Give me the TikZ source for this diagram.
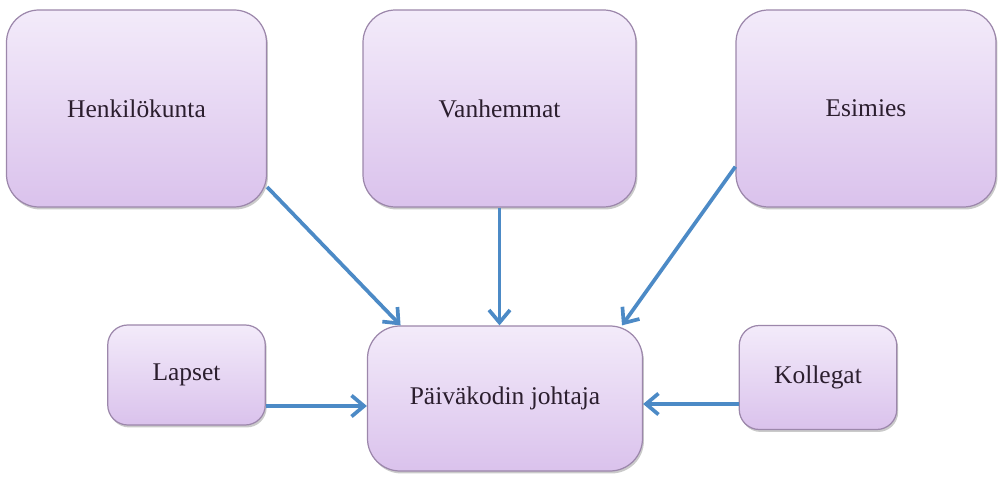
\documentclass[tikz,border=0pt]{standalone}
\usepackage{fontspec}
\setmainfont{Liberation Serif}
\usetikzlibrary{arrows.meta,positioning,shadows}
\definecolor{boxTop}{HTML}{F3EBFA}
\definecolor{boxBottom}{HTML}{DAC2EC}
\definecolor{boxLine}{HTML}{9C87AB}
\definecolor{arrowBlue}{HTML}{4C8AC6}
\definecolor{textInk}{HTML}{2B1E2E}
\tikzset{%
    >={Straight Barb[width=4.2mm,length=2.5mm]},
    base/.style = {
        rectangle, rounded corners=0.65cm, draw=boxLine, line width=0.7pt,
        top color=boxTop, bottom color=boxBottom, text=textInk,
        text centered, font=\fontsize{14.5}{17}\selectfont,
        drop shadow={shadow xshift=0.8pt, shadow yshift=-1.4pt,
            opacity=0.35, fill=black!60}
    },
    bigBox/.style = {base, minimum width=5.2cm, minimum height=3.94cm},
    smallBox/.style = {base, rounded corners=0.4cm,
        minimum width=3.15cm, minimum height=2cm},
    headBox/.style = {base, minimum width=5.5cm, minimum height=2.9cm},
    link/.style = {->, draw=arrowBlue, line width=2.1pt},
}

\begin{document}
\begin{tikzpicture}[node distance=7.3cm]
        \useasboundingbox (0,0) rectangle (20.06,-9.62);

        % Nodes position
        \node (vanhemmat)   [bigBox, minimum width=5.46cm]
                              at (9.99,-2.17) {Vanhemmat};
        \node (henkilo)     [bigBox, left of=vanhemmat, xshift=0.04cm]
                              {Henkilökunta};
        \node (esimies)     [bigBox, right of=vanhemmat, xshift=0.03cm]
                              {Esimies};
        \node (johtaja)     [headBox, below of=vanhemmat, xshift=0.11cm,
                              yshift=1.5cm]
                              {Päiväkodin johtaja};
        \node (lapset)      [smallBox, left of=johtaja, xshift=0.93cm,
                              yshift=0.47cm]
                              {Lapset};
        \node (kollegat)    [smallBox, right of=johtaja, xshift=-1.04cm,
                              yshift=0.42cm, minimum height=2.08cm]
                              {Kollegat};

        % Arrow specification
        \draw[link]   (henkilo.-31) -- (johtaja.145);
        \draw[link] (vanhemmat.south) -- (vanhemmat.south |- johtaja.north);
        \draw[link]   (esimies.204) -- (johtaja.32);
        \draw[link] ([yshift=-0.62cm]lapset.east)
                      -- ([yshift=-0.62cm]lapset.east -| johtaja.west);
        \draw[link] ([yshift=-0.53cm]kollegat.west)
                      -- ([yshift=-0.53cm]kollegat.west -| johtaja.east);
\end{tikzpicture}
\end{document}
